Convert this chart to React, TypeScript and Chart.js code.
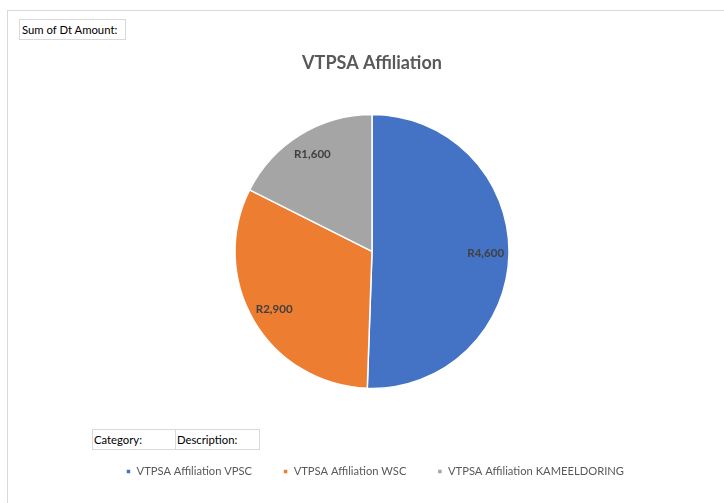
import React, { useEffect, useRef } from "react";
import { Chart, registerables } from "chart.js";

Chart.register(...registerables);

const chartTitle = "VTPSA Affiliation";
const categories = [
  "VTPSA Affiliation VPSC",
  "VTPSA Affiliation WSC",
  "VTPSA Affiliation KAMEELDORING",
];
const amounts = [4600, 2900, 1600];
const sliceColors = ["#4472C4", "#ED7D31", "#A5A5A5"];

const FONT = "Lato, 'Liberation Sans', sans-serif";

const fmt = (v: number) => "R" + v.toLocaleString("en-US");

const labelPlugin = {
  id: "sliceLabels",
  afterDatasetsDraw(chart: any) {
    const ctx = chart.ctx;
    const meta = chart.getDatasetMeta(0);
    ctx.save();
    ctx.font = `bold 11.5px ${FONT}`;
    ctx.fillStyle = "#404040";
    ctx.textAlign = "center";
    ctx.textBaseline = "middle";
    meta.data.forEach((arc: any, i: number) => {
      const p = arc.getProps(["x", "y", "startAngle", "endAngle", "outerRadius"], true);
      const mid = (p.startAngle + p.endAngle) / 2;
      const r = p.outerRadius * 0.83;
      ctx.fillText(fmt(amounts[i]), p.x + Math.cos(mid) * r, p.y + Math.sin(mid) * r);
    });
    ctx.restore();
  },
};

const legendShift = {
  id: "legendShift",
  afterLayout(chart: any) {
    const lg = chart.legend;
    if (lg) {
      lg.left += 3;
      lg.right += 3;
    }
  },
};

export default function App() {
  const ref = useRef<HTMLCanvasElement | null>(null);

  useEffect(() => {
    if (!ref.current) return;
    const chart = new Chart(ref.current, {
      type: "pie",
      data: {
        labels: categories,
        datasets: [
          {
            data: amounts,
            backgroundColor: sliceColors,
            borderColor: "#ffffff",
            borderWidth: 1.5,
            radius: 137,
          } as any,
        ],
      },
      options: {
        animation: false,
        responsive: false,
        maintainAspectRatio: false,
        layout: { padding: { left: 20, right: 0, top: 0, bottom: 16 } },
        plugins: {
          title: {
            display: true,
            text: chartTitle,
            color: "#595959",
            font: { family: FONT, size: 18, weight: "bold", lineHeight: 1 },
            padding: { top: 54, bottom: -4 },
          },
          legend: {
            position: "bottom",
            labels: {
              boxWidth: 5,
              boxHeight: 5,
              padding: 31,
              color: "#595959",
              font: { family: FONT, size: 11.2 },
            },
          },
          tooltip: { enabled: false },
        },
      },
      plugins: [labelPlugin, legendShift],
    });
    return () => chart.destroy();
  }, []);

  const btn: React.CSSProperties = {
    position: "absolute",
    border: "1px solid #d9d9d9",
    boxSizing: "border-box",
    background: "#fff",
    fontFamily: FONT,
    fontSize: 11.3,
    color: "#000",
    lineHeight: "19px",
    paddingLeft: 1,
    whiteSpace: "nowrap",
  };

  return (
    <div style={{ position: "fixed", left: 0, top: 0, width: 724, height: 503, background: "#fff", overflow: "hidden" }}>
      <div
        style={{
          position: "absolute",
          left: 7,
          top: 10,
          width: 800,
          height: 600,
          borderLeft: "1px solid #d9d9d9",
          borderTop: "1px solid #d9d9d9",
        }}
      />
      <canvas ref={ref} width={724} height={503} style={{ position: "absolute", left: 0, top: 0, width: 724, height: 503 }} />
      <div style={{ ...btn, left: 19, top: 19, width: 107, height: 21, paddingLeft: 2 }}>Sum of Dt Amount:</div>
      <div style={{ ...btn, left: 92, top: 429, width: 84, height: 21 }}>Category:</div>
      <div style={{ ...btn, left: 175, top: 429, width: 85, height: 21 }}>Description:</div>
    </div>
  );
}
